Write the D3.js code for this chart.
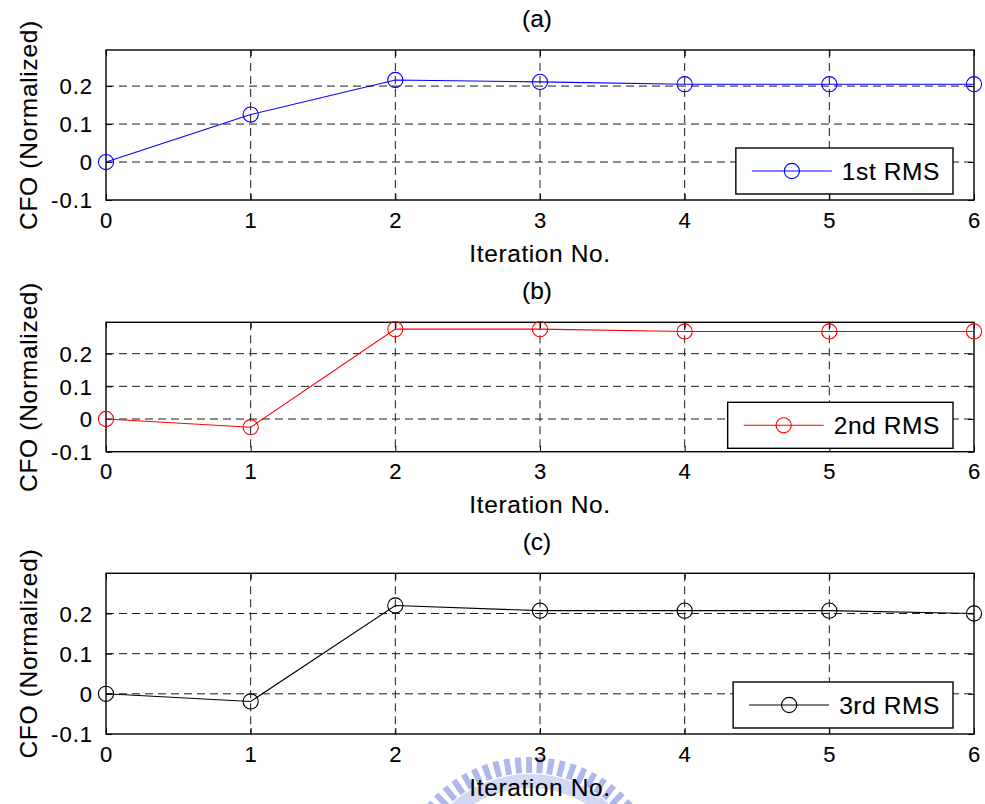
<!DOCTYPE html>
<html>
<head>
<meta charset="utf-8">
<script src="https://cdn.jsdelivr.net/npm/d3@7"></script>
<style>
  html, body { margin: 0; padding: 0; background: #fff; }
  svg { display: block; }
  text { font-family: "Liberation Sans", Arial, sans-serif; fill: #000; stroke: #000; stroke-width: 0.12px; }
</style>
</head>
<body>
<svg id="chart" width="985" height="804"></svg>
<script>
// Iteration index on the x axis
const iterations = [0, 1, 2, 3, 4, 5, 6];

// Estimated carrier frequency offset (normalized) after each iteration
const cfoFirstRms  = [0, 0.125, 0.216, 0.211, 0.205, 0.205, 0.205];
const cfoSecondRms = [0, -0.025, 0.275, 0.275, 0.268, 0.268, 0.268];
const cfoThirdRms  = [0, -0.019, 0.220, 0.207, 0.207, 0.207, 0.200];

const seriesNames  = ["1st RMS", "2nd RMS", "3rd RMS"];
const seriesColors = ["#0000ff", "#ff0000", "#000000"];
const panelTitles  = ["(a)", "(b)", "(c)"];

const yTicks = [-0.1, 0, 0.1, 0.2];
const yTickLabels = ["-0.1", "0", "0.1", "0.2"];
const xTickLabels = ["0", "1", "2", "3", "4", "5", "6"];
const yMin = -0.1;
const yMaxByPanel = [0.295, 0.296, 0.30];

const xLabel = "Iteration No.";
const yLabel = "CFO (Normalized)";

const seriesValues = [cfoFirstRms, cfoSecondRms, cfoThirdRms];

// Panel frames (axes rectangles)
const frameLeft = 106, frameRight = 974;
const frames = [
  { top: 50,    bottom: 200,   legendGap: 6 },
  { top: 322.3, bottom: 451.7, legendGap: 3.4 },
  { top: 573.3, bottom: 734,   legendGap: 6 }
];

const svg = d3.select("#chart");

// Faint circular emblem near the bottom edge
(function drawEmblem() {
  const g = svg.append("g").attr("class", "emblem");
  const cx = 530, cy = 893;
  g.append("circle")
    .attr("cx", cx).attr("cy", cy).attr("r", 112)
    .attr("fill", "none").attr("stroke", "#d3d8f4").attr("stroke-width", 14);
  const teeth = d3.range(-58, 59, 4.8);
  g.selectAll("line.tooth").data(teeth).join("line")
    .attr("class", "tooth")
    .attr("x1", a => cx + 120 * Math.sin(a * Math.PI / 180))
    .attr("y1", a => cy - 120 * Math.cos(a * Math.PI / 180))
    .attr("x2", a => cx + 136 * Math.sin(a * Math.PI / 180))
    .attr("y2", a => cy - 136 * Math.cos(a * Math.PI / 180))
    .attr("stroke", "#b0b7ec").attr("stroke-width", 6);
})();

frames.forEach((f, i) => {
  const x = d3.scaleLinear().domain([0, 6]).range([frameLeft, frameRight]);
  const y = d3.scaleLinear().domain([yMin, yMaxByPanel[i]]).range([f.bottom, f.top]);
  const g = svg.append("g").attr("class", "panel");
  const w = frameRight - frameLeft, h = f.bottom - f.top;

  // Dashed grid
  const grid = g.append("g").attr("class", "grid");
  grid.selectAll("line.gx").data(iterations.slice(1, -1)).join("line")
    .attr("class", "gx")
    .attr("x1", d => x(d)).attr("x2", d => x(d))
    .attr("y1", f.top).attr("y2", f.bottom);
  grid.selectAll("line.gy").data(yTicks.slice(1)).join("line")
    .attr("class", "gy")
    .attr("x1", frameLeft).attr("x2", frameRight)
    .attr("y1", d => y(d)).attr("y2", d => y(d));
  grid.selectAll("line")
    .attr("stroke", "#1a1a1a").attr("stroke-width", 1)
    .attr("stroke-dasharray", "8,5");

  // Axes: bottom/left with labels, top/right with inward ticks only
  const axB = d3.axisBottom(x).tickValues(iterations).tickFormat((d, k) => xTickLabels[k])
    .tickSizeInner(-6).tickSizeOuter(0).tickPadding(12);
  const axT = d3.axisTop(x).tickValues(iterations).tickFormat("")
    .tickSizeInner(-6).tickSizeOuter(0);
  const axL = d3.axisLeft(y).tickValues(yTicks).tickFormat((d, k) => yTickLabels[k])
    .tickSizeInner(-6).tickSizeOuter(0).tickPadding(13);
  const axR = d3.axisRight(y).tickValues(yTicks).tickFormat("")
    .tickSizeInner(-6).tickSizeOuter(0);

  const gb = g.append("g").attr("transform", `translate(0,${f.bottom})`).call(axB);
  g.append("g").attr("transform", `translate(0,${f.top})`).call(axT);
  const gl = g.append("g").attr("transform", `translate(${frameLeft},0)`).call(axL);
  g.append("g").attr("transform", `translate(${frameRight},0)`).call(axR);
  g.selectAll(".domain").remove();
  g.selectAll(".tick line").attr("stroke", "#000").attr("stroke-width", 1);
  gb.selectAll(".tick text")
    .attr("font-size", 22).attr("font-family", "Liberation Sans, Arial, sans-serif")
    .attr("letter-spacing", 1).attr("fill", "#000");
  gl.selectAll(".tick text")
    .attr("font-size", 22).attr("font-family", "Liberation Sans, Arial, sans-serif")
    .attr("letter-spacing", 1).attr("fill", "#000").attr("dy", "0.36em");

  // Frame
  g.append("rect")
    .attr("x", frameLeft).attr("y", f.top).attr("width", w).attr("height", h)
    .attr("fill", "none").attr("stroke", "#000").attr("stroke-width", 1.4);

  // Series line with circle markers
  const vals = seriesValues[i];
  const color = seriesColors[i];
  const line = d3.line().x((d, k) => x(iterations[k])).y(d => y(d));
  g.append("path").datum(vals)
    .attr("d", line).attr("fill", "none")
    .attr("stroke", color).attr("stroke-width", 1.1);
  g.selectAll("circle.pt").data(vals).join("circle")
    .attr("class", "pt")
    .attr("cx", (d, k) => x(iterations[k])).attr("cy", d => y(d))
    .attr("r", 7.6).attr("fill", "none")
    .attr("stroke", color).attr("stroke-width", 1.1);

  // Title and axis labels
  g.append("text")
    .attr("x", 537).attr("y", f.top - 23.5)
    .attr("text-anchor", "middle").attr("font-size", 24.5)
    .text(panelTitles[i]);
  g.append("text")
    .attr("x", (frameLeft + frameRight) / 2).attr("y", f.bottom + 61.5)
    .attr("text-anchor", "middle").attr("font-size", 24.5)
    .attr("letter-spacing", 0.6)
    .text(xLabel);
  g.append("text")
    .attr("transform", `translate(37,${(f.top + f.bottom) / 2}) rotate(-90)`)
    .attr("text-anchor", "middle").attr("font-size", 24.5)
    .attr("letter-spacing", 0.7)
    .text(yLabel);

  // Legend
  const lg = g.append("g").attr("class", "legend");
  const lt = lg.append("text")
    .attr("font-size", 24.5).attr("letter-spacing", 0.6)
    .text(seriesNames[i]);
  const tw = lt.node().getComputedTextLength();
  const boxH = 46;
  const boxW = 106 + tw + 13;
  const bx = frameRight - 21 - boxW;
  const by = f.bottom - f.legendGap - boxH;
  lg.insert("rect", "text")
    .attr("x", bx).attr("y", by).attr("width", boxW).attr("height", boxH)
    .attr("fill", "#fff").attr("stroke", "#000").attr("stroke-width", 1.4);
  const ly = by + boxH / 2;
  lg.append("line")
    .attr("x1", bx + 16).attr("x2", bx + 96).attr("y1", ly).attr("y2", ly)
    .attr("stroke", color).attr("stroke-width", 1.1);
  lg.append("circle")
    .attr("cx", bx + 56).attr("cy", ly).attr("r", 7.6)
    .attr("fill", "none").attr("stroke", color).attr("stroke-width", 1.1);
  lt.attr("x", bx + 106).attr("y", ly + 8.8);
});
</script>
</body>
</html>
